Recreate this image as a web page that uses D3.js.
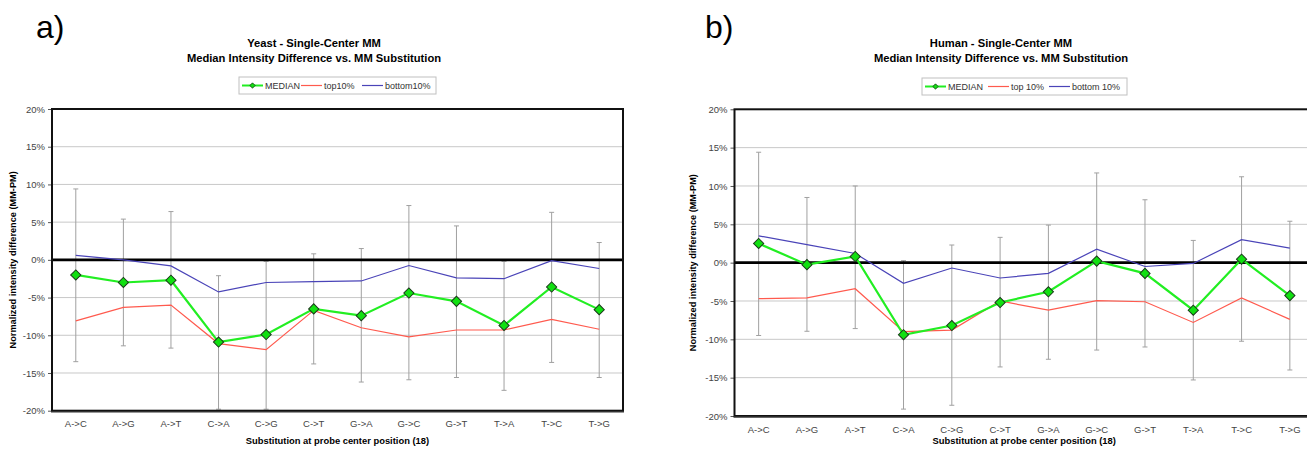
<!DOCTYPE html>
<html><head><meta charset="utf-8">
<script src="https://cdn.jsdelivr.net/npm/d3@7"></script>
<style>
html,body{margin:0;padding:0;background:#fff;overflow:hidden}
svg{display:block;font-family:"Liberation Sans",Arial,sans-serif}
</style></head>
<body>
<svg id="c" width="1307" height="449"></svg>
<script>
const categories = ["A->C","A->G","A->T","C->A","C->G","C->T","G->A","G->C","G->T","T->A","T->C","T->G"];
const yTicks = [-0.20,-0.15,-0.10,-0.05,0,0.05,0.10,0.15,0.20];

// Yeast (a)
const yeastMedian = [-2.0,-3.0,-2.7,-10.9,-9.9,-6.5,-7.4,-4.4,-5.5,-8.7,-3.6,-6.6];
const yeastTop    = [-8.1,-6.3,-6.0,-11.1,-11.9,-6.7,-9.0,-10.2,-9.3,-9.3,-7.9,-9.2];
const yeastBottom = [0.6,0.0,-0.8,-4.25,-3.0,-2.9,-2.8,-0.75,-2.4,-2.5,-0.1,-1.15];
const yeastErrHigh = [9.4,5.4,6.4,-2.1,-0.2,0.8,1.5,7.2,4.5,-0.2,6.3,2.3];
const yeastErrLow  = [-13.5,-11.4,-11.7,-19.8,-19.8,-13.8,-16.2,-15.9,-15.6,-17.3,-13.6,-15.6];

// Human (b)
const humanMedian = [2.5,-0.26,0.8,-9.4,-8.2,-5.2,-3.8,0.2,-1.4,-6.2,0.45,-4.3];
const humanTop    = [-4.7,-4.6,-3.4,-9.0,-8.8,-5.0,-6.2,-4.95,-5.1,-7.8,-4.6,-7.4];
const humanBottom = [3.5,2.35,1.2,-2.7,-0.7,-2.0,-1.4,1.75,-0.5,-0.1,3.0,1.9];
const humanErrHigh = [14.4,8.5,10.0,0.26,2.3,3.3,4.9,11.7,8.2,2.9,11.2,5.4];
const humanErrLow  = [-9.5,-8.95,-8.6,-19.1,-18.6,-13.6,-12.6,-11.4,-11.0,-15.3,-10.25,-14.0];

const svg = d3.select("#c");

function drawChart(o){
  const g = svg.append("g");
  const x = d3.scaleBand().domain(categories).range([o.x0, o.x1]);
  const y = d3.scaleLinear().domain([-0.2,0.2]).range([o.y1, o.y0]);
  const cx = d => x(d) + x.bandwidth()/2;

  // panel letter
  g.append("text").attr("x", o.letterX).attr("y", 38).attr("font-size", 32).attr("fill","#000").text(o.letter);

  // titles
  g.append("text").attr("x", o.titleX).attr("y", 47).attr("text-anchor","middle")
    .attr("font-size", 11.2).attr("font-weight","bold").text(o.title1);
  g.append("text").attr("x", o.titleX).attr("y", 62).attr("text-anchor","middle")
    .attr("font-size", 11.2).attr("font-weight","bold").text("Median Intensity Difference vs. MM Substitution");

  // gridlines
  g.append("g").selectAll("line").data(yTicks.filter(t => t!==0 && Math.abs(t)<0.2)).join("line")
    .attr("x1", o.x0).attr("x2", o.x1).attr("y1", d=>y(d)).attr("y2", d=>y(d))
    .attr("stroke","#c8c8c8").attr("stroke-width",1);

  // y axis
  const ya = g.append("g").attr("transform",`translate(${o.x0},0)`)
    .call(d3.axisLeft(y).tickValues(yTicks).tickSize(4).tickPadding(3).tickFormat(d => Math.round(d*100) + "%"));
  ya.select(".domain").remove();
  ya.selectAll(".tick line").attr("stroke","#555");
  ya.selectAll(".tick text").attr("font-size", 9.5).attr("fill","#444").attr("font-family","Liberation Sans, Arial, sans-serif");

  // x axis labels
  const xa = g.append("g").attr("transform",`translate(0,${o.y1})`)
    .call(d3.axisBottom(x).tickSize(0).tickPadding(10));
  xa.select(".domain").remove();
  xa.selectAll(".tick text").attr("font-size", 9.5).attr("fill","#444").attr("font-family","Liberation Sans, Arial, sans-serif");

  // axis titles
  g.append("text").attr("transform",`translate(${o.yTitleX},${(o.y0+o.y1)/2}) rotate(-90)`)
    .attr("text-anchor","middle").attr("font-size", 9.2).attr("font-weight","bold")
    .text("Normalized intensity difference (MM-PM)");
  g.append("text").attr("x", (o.x0+o.x1)/2).attr("y", 444).attr("text-anchor","middle")
    .attr("font-size", 9.4).attr("font-weight","bold").text("Substitution at probe center position (18)");

  // error bars
  const eb = g.append("g").attr("stroke","#a0a0a0").attr("stroke-width",1);
  categories.forEach((c,i) => {
    const X = cx(c);
    eb.append("line").attr("x1",X).attr("x2",X).attr("y1",y(o.errHigh[i]/100)).attr("y2",y(o.errLow[i]/100));
    eb.append("line").attr("x1",X-2.5).attr("x2",X+2.5).attr("y1",y(o.errHigh[i]/100)).attr("y2",y(o.errHigh[i]/100));
    eb.append("line").attr("x1",X-2.5).attr("x2",X+2.5).attr("y1",y(o.errLow[i]/100)).attr("y2",y(o.errLow[i]/100));
  });

  // zero line
  g.append("line").attr("x1",o.x0).attr("x2",o.x1).attr("y1",y(0)).attr("y2",y(0))
    .attr("stroke","#000").attr("stroke-width",2.6);

  const line = d3.line().x((d,i)=>cx(categories[i])).y(d=>y(d/100));
  g.append("path").datum(o.top).attr("d",line).attr("fill","none").attr("stroke","#ff5a4e").attr("stroke-width",1.2);
  g.append("path").datum(o.bottom).attr("d",line).attr("fill","none").attr("stroke","#4a44b8").attr("stroke-width",1.2);
  g.append("path").datum(o.median).attr("d",line).attr("fill","none").attr("stroke","#22ee22").attr("stroke-width",2.2);
  const sym = d3.symbol(d3.symbolSquare, 52);
  g.append("g").selectAll("path").data(o.median).join("path")
    .attr("d", sym)
    .attr("transform",(d,i)=>`translate(${cx(categories[i])},${y(d/100)}) rotate(45)`)
    .attr("fill","#11e011").attr("stroke","#1a3a1a").attr("stroke-width",1);

  // plot border
  g.append("rect").attr("x",o.x0).attr("y",o.y0).attr("width",o.x1-o.x0).attr("height",o.y1-o.y0)
    .attr("fill","none").attr("stroke","#111").attr("stroke-width",2);
  g.append("line").attr("x1",o.x0-1).attr("x2",o.x1+1).attr("y1",o.y1+1).attr("y2",o.y1+1)
    .attr("stroke","#333").attr("stroke-width",1.5);

  // legend
  const L = g.append("g").attr("transform",`translate(${o.legX},${o.legY})`);
  L.append("rect").attr("x",0).attr("y",0).attr("width",o.legW).attr("height",17)
    .attr("fill","#fff").attr("stroke","#c0c0c0").attr("stroke-width",1);
  const items = [
    {name:"MEDIAN", color:"#22ee22", w:2, marker:true, lx:3},
    {name:o.topName, color:"#ff5a4e", w:1.2, lx:o.leg2},
    {name:o.bottomName, color:"#4a44b8", w:1.2, lx:o.leg3}
  ];
  items.forEach(it => {
    L.append("line").attr("x1",it.lx).attr("x2",it.lx+21).attr("y1",8.5).attr("y2",8.5)
      .attr("stroke",it.color).attr("stroke-width",it.w);
    if(it.marker){
      L.append("path").attr("d", d3.symbol(d3.symbolSquare, 14)).attr("transform",`translate(${it.lx+10.5},8.5) rotate(45)`)
        .attr("fill","#11e011").attr("stroke","#1a3a1a").attr("stroke-width",0.8);
    }
    L.append("text").attr("x",it.lx+23).attr("y",12).attr("font-size",9).attr("fill","#333").text(it.name);
  });
}

drawChart({letter:"a)", letterX:36, title1:"Yeast - Single-Center MM", titleX:314,
  x0:52, x1:623, y0:109, y1:410.7, yTitleX:16,
  median:yeastMedian, top:yeastTop, bottom:yeastBottom, errHigh:yeastErrHigh, errLow:yeastErrLow,
  legX:239, legY:77, legW:197, leg2:62, leg3:123, topName:"top10%", bottomName:"bottom10%"});

drawChart({letter:"b)", letterX:705, title1:"Human - Single-Center MM", titleX:1001,
  x0:734.5, x1:1314, y0:109.3, y1:416, yTitleX:696,
  median:humanMedian, top:humanTop, bottom:humanBottom, errHigh:humanErrHigh, errLow:humanErrLow,
  legX:922, legY:78, legW:205, leg2:66, leg3:127, topName:"top 10%", bottomName:"bottom 10%"});
</script>
</body></html>
